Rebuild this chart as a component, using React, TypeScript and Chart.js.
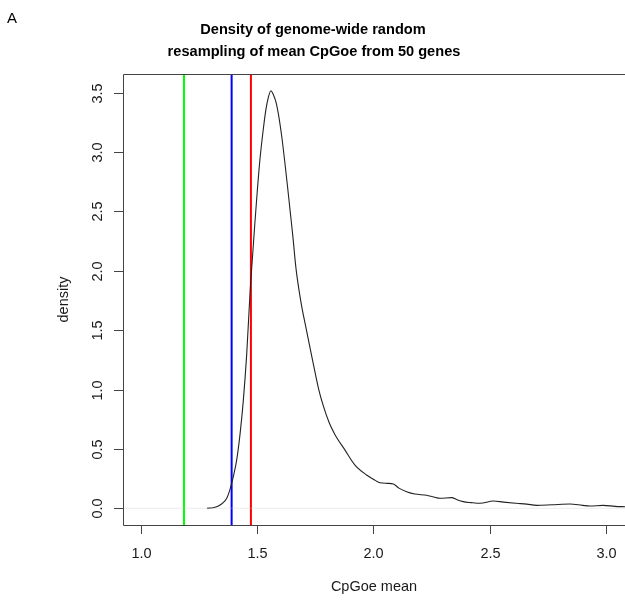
import React, { useEffect, useRef } from "react";
import { Chart, registerables } from "chart.js";

Chart.register(...registerables);

const curveX = [1.284, 1.31, 1.333, 1.355, 1.369, 1.38, 1.39, 1.4, 1.412, 1.426, 1.44, 1.455, 1.47, 1.48, 1.49, 1.5, 1.512, 1.525, 1.537, 1.548, 1.559, 1.57, 1.581, 1.593, 1.605, 1.618, 1.63, 1.642, 1.653, 1.667, 1.688, 1.712, 1.738, 1.765, 1.785, 1.81, 1.835, 1.878, 1.921, 1.971, 2.0, 2.028, 2.06, 2.086, 2.11, 2.143, 2.179, 2.229, 2.26, 2.287, 2.337, 2.36, 2.387, 2.42, 2.459, 2.516, 2.56, 2.617, 2.66, 2.703, 2.77, 2.846, 2.9, 2.932, 2.989, 3.04, 3.083];
const curveY = [0.0, 0.005, 0.02, 0.05, 0.085, 0.14, 0.21, 0.29, 0.41, 0.62, 0.9, 1.3, 1.84, 2.12, 2.4, 2.66, 2.94, 3.17, 3.35, 3.46, 3.515, 3.48, 3.42, 3.3, 3.14, 2.93, 2.72, 2.5, 2.3, 2.02, 1.74, 1.5, 1.25, 1.0, 0.86, 0.72, 0.62, 0.49, 0.364, 0.28, 0.245, 0.215, 0.21, 0.205, 0.17, 0.14, 0.12, 0.11, 0.095, 0.084, 0.09, 0.072, 0.056, 0.048, 0.042, 0.061, 0.052, 0.042, 0.035, 0.025, 0.03, 0.036, 0.025, 0.019, 0.025, 0.016, 0.013];

const vlineValues = [1.185, 1.39, 1.473];
const vlineColors = ["#00ff00", "#0000ff", "#ff0000"];

const xTicks = [1.0, 1.5, 2.0, 2.5, 3.0];
const xTickLabels = ["1.0", "1.5", "2.0", "2.5", "3.0"];
const yTicks = [0, 0.5, 1, 1.5, 2, 2.5, 3, 3.5];
const yTickLabels = ["0.0", "0.5", "1.0", "1.5", "2.0", "2.5", "3.0", "3.5"];

const titleLines = ["Density of genome-wide random", "resampling of mean CpGoe from 50 genes"];
const xTitle = "CpGoe mean";
const yTitle = "density";
const panelLabel = "A";

const X_MIN = 0.9225;
const X_MAX = 3.083;
const Y_MIN = -0.1406;
const Y_MAX = 3.656;

const FONT = "'Liberation Sans', Arial, sans-serif";

const rPlot = {
  id: "rPlot",
  afterDraw(chart: any) {
    const ctx = chart.ctx as CanvasRenderingContext2D;
    const { left, top, right, bottom } = chart.chartArea;
    const xs = chart.scales.x;
    const ys = chart.scales.y;
    ctx.save();
    ctx.strokeStyle = "#444";
    ctx.lineWidth = 1;
    ctx.beginPath();
    ctx.moveTo(right + 5, top + 0.5);
    ctx.lineTo(left + 0.5, top + 0.5);
    ctx.lineTo(left + 0.5, bottom + 0.5);
    ctx.lineTo(right + 5, bottom + 0.5);
    ctx.stroke();

    ctx.fillStyle = "#1a1a1a";
    ctx.font = `14.5px ${FONT}`;
    ctx.textAlign = "center";
    ctx.textBaseline = "alphabetic";
    xTicks.forEach((v, i) => {
      const px = Math.round(xs.getPixelForValue(v)) + 0.5;
      ctx.beginPath();
      ctx.moveTo(px, bottom);
      ctx.lineTo(px, bottom + 9);
      ctx.stroke();
      ctx.fillText(xTickLabels[i], px, 557.5);
    });

    yTicks.forEach((v, i) => {
      const py = Math.round(ys.getPixelForValue(v)) + 0.5;
      ctx.beginPath();
      ctx.moveTo(left - 9, py);
      ctx.lineTo(left, py);
      ctx.stroke();
      ctx.save();
      ctx.translate(101.7, py);
      ctx.rotate(-Math.PI / 2);
      ctx.fillText(yTickLabels[i], 0, 0);
      ctx.restore();
    });

    ctx.fillText(xTitle, (left + right) / 2, 591);
    ctx.save();
    ctx.translate(68, (top + bottom) / 2);
    ctx.rotate(-Math.PI / 2);
    ctx.fillText(yTitle, 0, 0);
    ctx.restore();

    ctx.fillStyle = "#000";
    ctx.font = `bold 14.6px ${FONT}`;
    ctx.fillText(titleLines[0], 313, 34);
    ctx.fillText(titleLines[1], 314, 56);

    ctx.textAlign = "left";
    ctx.font = `15px ${FONT}`;
    ctx.fillText(panelLabel, 7, 22.5);
    ctx.restore();
  },
};

export default function App() {
  const ref = useRef<HTMLCanvasElement | null>(null);
  useEffect(() => {
    if (!ref.current) return;
    const curve = curveX.map((x, i) => ({ x, y: curveY[i] }));
    const vDatasets = vlineValues.map((v, i) => ({
      type: "line" as const,
      data: [
        { x: v, y: Y_MIN },
        { x: v, y: Y_MAX },
      ],
      borderColor: vlineColors[i],
      borderWidth: 2,
      pointRadius: 0,
      tension: 0,
    }));
    const chart = new Chart(ref.current, {
      type: "line",
      data: {
        datasets: [
          {
            data: [
              { x: X_MIN, y: 0 },
              { x: X_MAX, y: 0 },
            ],
            borderColor: "rgba(200,200,200,0.35)",
            borderWidth: 1,
            pointRadius: 0,
          },
          {
            data: curve,
            borderColor: "#222",
            borderWidth: 1.1,
            pointRadius: 0,
            cubicInterpolationMode: "monotone",
          },
          ...vDatasets,
        ],
      },
      options: {
        animation: false,
        responsive: false,
        devicePixelRatio: 1,
        layout: { padding: { left: 123, top: 74, right: 0, bottom: 76 } },
        plugins: { legend: { display: false }, tooltip: { enabled: false }, title: { display: false } },
        scales: {
          x: { type: "linear", min: X_MIN, max: X_MAX, display: false },
          y: { type: "linear", min: Y_MIN, max: Y_MAX, display: false },
        },
        events: [],
      },
      plugins: [rPlot],
    });
    return () => chart.destroy();
  }, []);
  return (
    <div style={{ position: "absolute", left: 0, top: 0, width: 625, height: 601, overflow: "hidden", background: "#fff" }}>
      <canvas ref={ref} width={625} height={601} style={{ display: "block" }} />
    </div>
  );
}
